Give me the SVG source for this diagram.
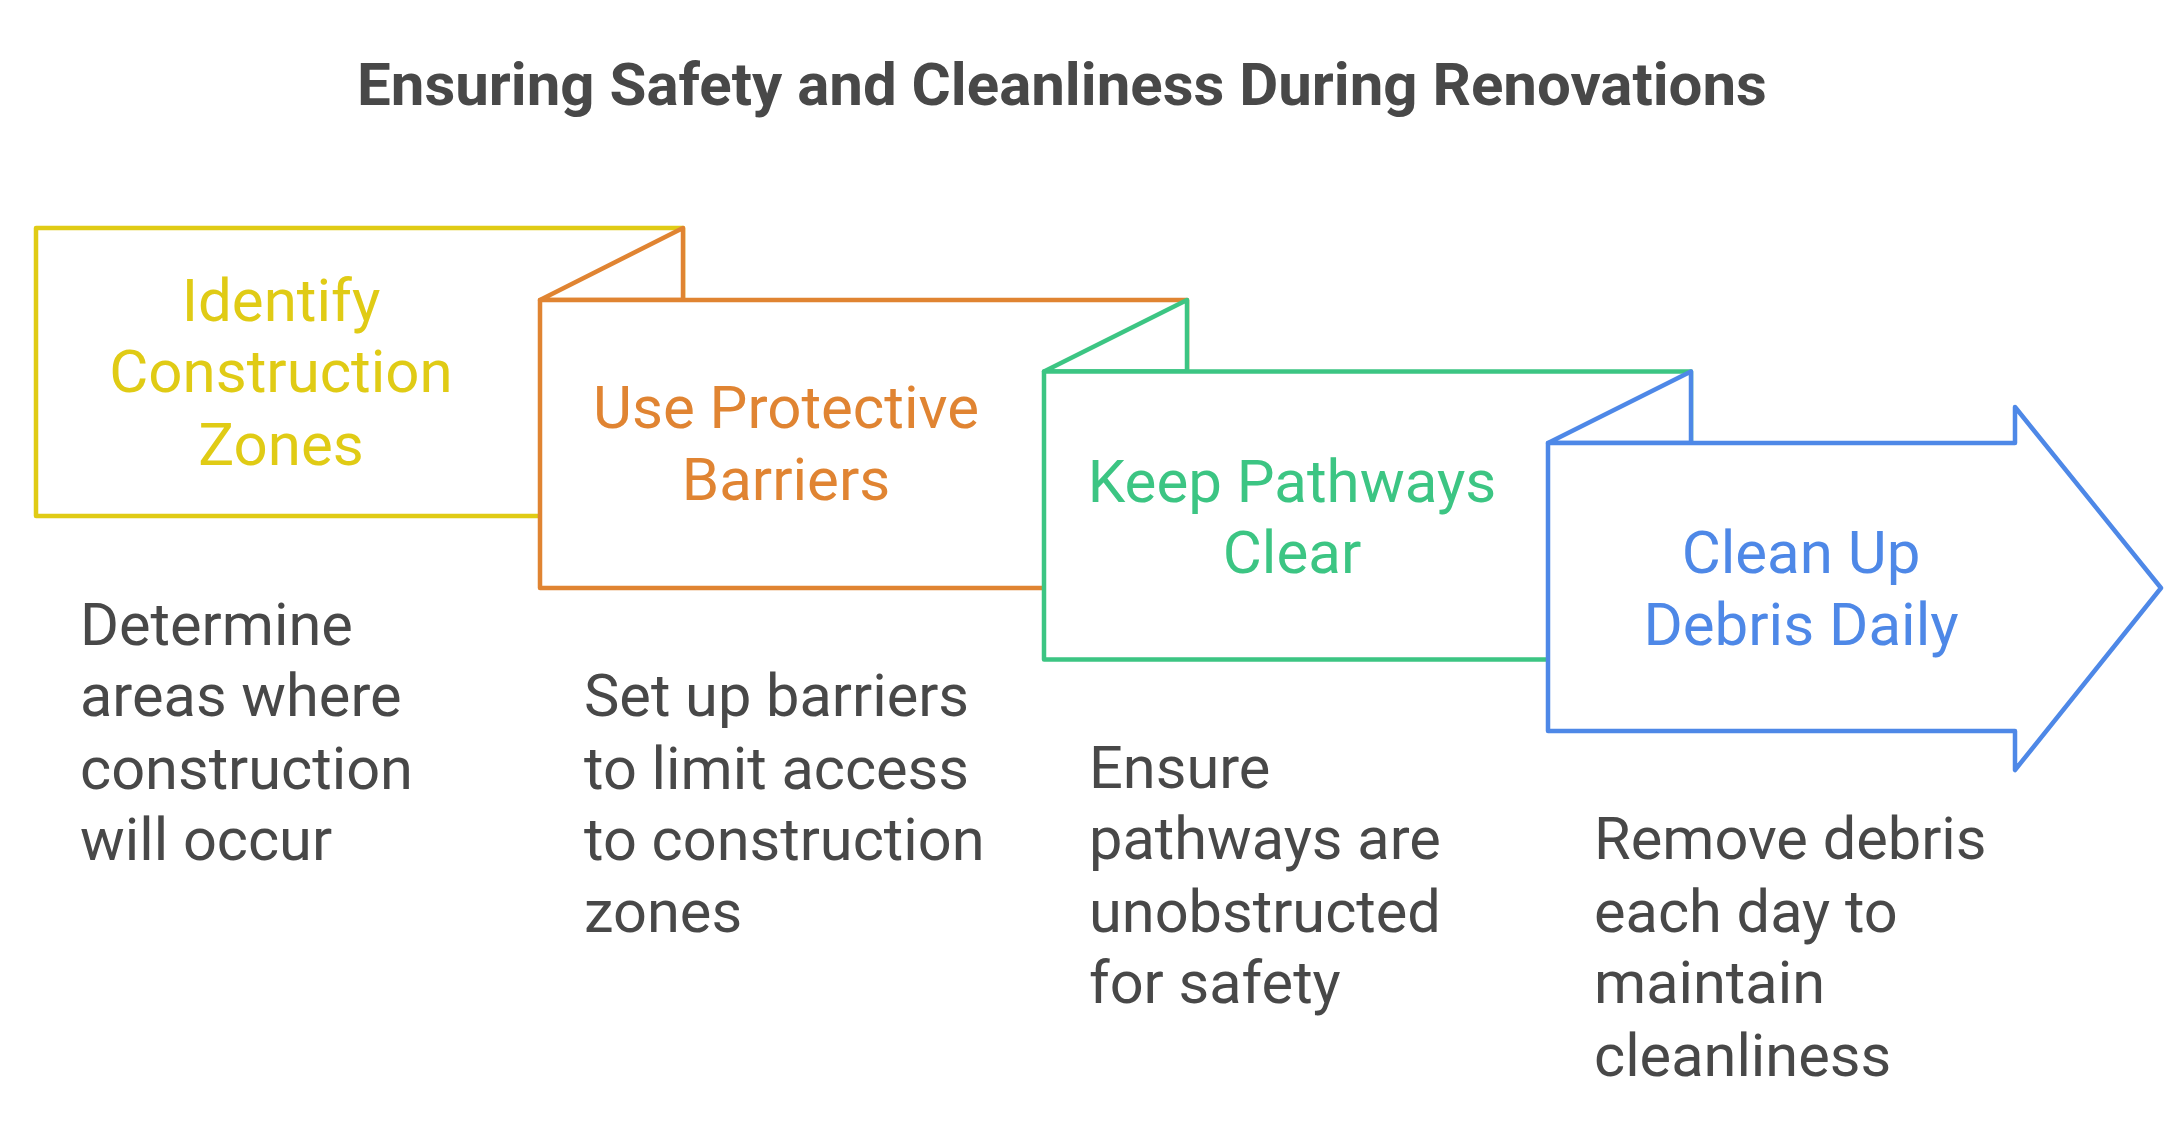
<svg xmlns="http://www.w3.org/2000/svg" width="2179" height="1122" viewBox="0 0 2179 1122">
<style>
.shape{fill:#ffffff;stroke-width:4.5;stroke-linejoin:round;stroke-linecap:round}
.y{stroke:#E0CB15}.o{stroke:#E08432}.g{stroke:#3CC583}.b{stroke:#4E88E7}
.lbl{font-family:Roboto,"Liberation Sans",sans-serif;font-size:60px;text-anchor:middle}
.ly{fill:#E0CB15}.lo{fill:#E08432}.lg{fill:#3CC583}.lb{fill:#4E88E7}
.desc{font-family:Roboto,"Liberation Sans",sans-serif;font-size:59.5px;fill:#484848}
.title{font-family:Roboto,"Liberation Sans",sans-serif;font-size:60px;font-weight:bold;fill:#484848;text-anchor:middle}
</style>
<rect width="2179" height="1122" fill="#ffffff"/>
<text class="title" x="1062" y="105">Ensuring Safety and Cleanliness During Renovations</text>
<g id="connectors"></g>
<g id="node-identify">
<rect class="shape y" x="36" y="228" width="647" height="288"/>
<text class="lbl ly" x="281" y="321">Identify</text>
<text class="lbl ly" x="281" y="392">Construction</text>
<text class="lbl ly" x="281" y="465">Zones</text>
<text class="desc" x="80" y="645">Determine</text>
<text class="desc" x="80" y="716">areas where</text>
<text class="desc" x="80" y="789">construction</text>
<text class="desc" x="80" y="860">will occur</text>
</g>
<g id="node-barriers">
<path class="shape o" d="M540,300 L683,228 L683,300 Z"/>
<rect class="shape o" x="540" y="300" width="647" height="288"/>
<text class="lbl lo" x="786" y="428">Use Protective</text>
<text class="lbl lo" x="786" y="500">Barriers</text>
<text class="desc" x="584" y="716">Set up barriers</text>
<text class="desc" x="584" y="789">to limit access</text>
<text class="desc" x="584" y="860">to construction</text>
<text class="desc" x="584" y="932">zones</text>
</g>
<g id="node-pathways">
<path class="shape g" d="M1044,371.5 L1187,300 L1187,371.5 Z"/>
<rect class="shape g" x="1044" y="371.5" width="647" height="288"/>
<text class="lbl lg" x="1292" y="502">Keep Pathways</text>
<text class="lbl lg" x="1292" y="573">Clear</text>
<text class="desc" x="1089" y="788">Ensure</text>
<text class="desc" x="1089" y="859">pathways are</text>
<text class="desc" x="1089" y="932">unobstructed</text>
<text class="desc" x="1089" y="1003">for safety</text>
</g>
<g id="node-cleanup">
<path class="shape b" d="M1548,443 L1691,371.5 L1691,443 Z"/>
<path class="shape b" d="M1548,443 L2015,443 L2015,407 L2161,588 L2015,770 L2015,731 L1548,731 Z"/>
<text class="lbl lb" x="1801" y="573">Clean Up</text>
<text class="lbl lb" x="1801" y="645">Debris Daily</text>
<text class="desc" x="1594" y="859">Remove debris</text>
<text class="desc" x="1594" y="932">each day to</text>
<text class="desc" x="1594" y="1003">maintain</text>
<text class="desc" x="1594" y="1076">cleanliness</text>
</g>
</svg>
